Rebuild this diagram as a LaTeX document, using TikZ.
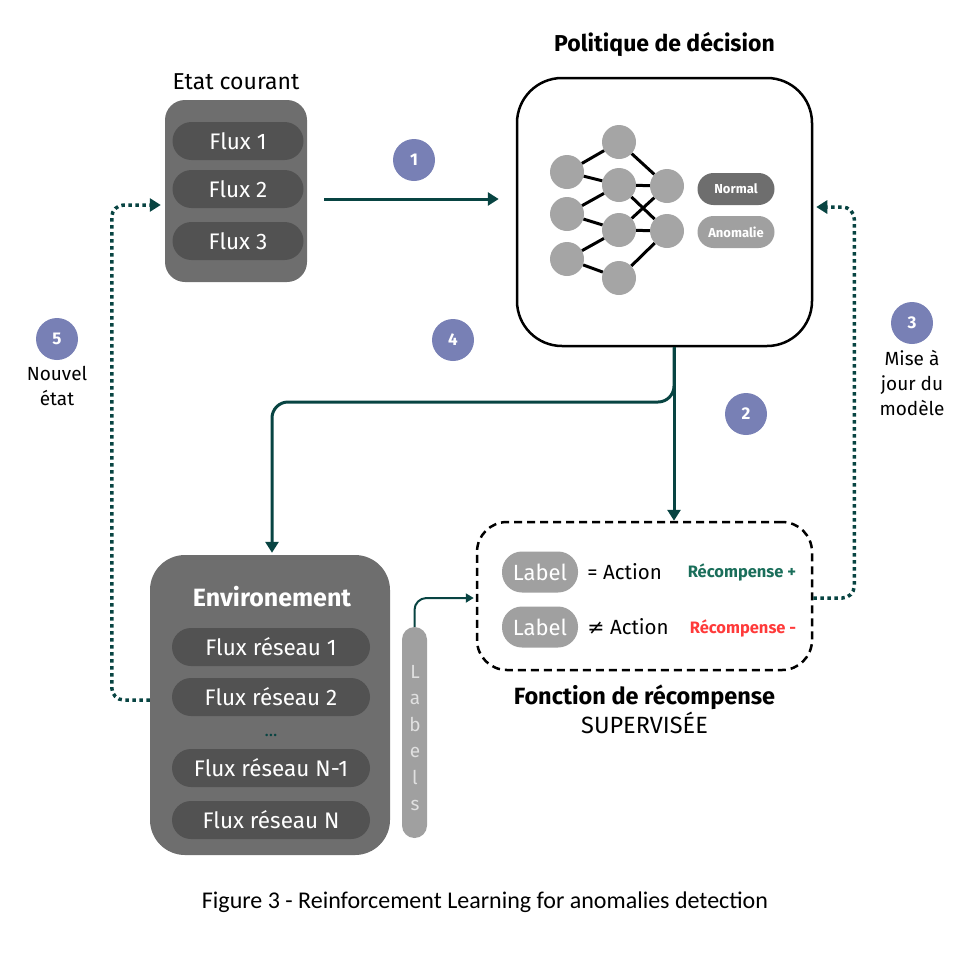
\documentclass[tikz,border=0pt]{standalone}
\usepackage{fontspec}
\setmainfont{Fira Sans}
\newfontfamily\capfont{Carlito}
\newfontfamily\symfont{DejaVu Sans}
\usepackage{tikz}
\usetikzlibrary{positioning,arrows.meta,calc}

\definecolor{boxgray}{RGB}{110,110,110}
\definecolor{pillgray}{RGB}{82,82,82}
\definecolor{softgray}{RGB}{160,160,160}
\definecolor{neurongray}{RGB}{165,165,165}
\definecolor{stepblue}{RGB}{120,128,181}
\definecolor{darkteal}{RGB}{8,68,66}
\definecolor{rewardgreen}{RGB}{26,110,90}
\definecolor{rewardred}{RGB}{255,58,58}

\begin{document}
\begin{tikzpicture}[
    x=1pt, y=-1pt,
    panel/.style={rectangle, fill=boxgray, inner sep=0pt},
    flux/.style={rectangle, rounded corners=19pt, fill=pillgray, text=white, minimum height=38pt, inner sep=0pt, font=\fontsize{22.5}{24}\selectfont},
    neuron/.style={circle, fill=neurongray, minimum size=34pt, inner sep=0pt},
    synapse/.style={line width=3pt, black},
    outlabel/.style={rectangle, rounded corners=16pt, minimum width=77pt, minimum height=32pt, inner sep=0pt, text=white, font=\bfseries\fontsize{13}{14}\selectfont},
    labelpill/.style={rectangle, rounded corners=20pt, fill=softgray, text=white, minimum width=76pt, minimum height=41pt, inner sep=0pt, font=\fontsize{22}{24}\selectfont},
    numbered/.style={circle, fill=stepblue, text=white, minimum size=42pt, inner sep=0pt, font=\bfseries\fontsize{17}{17}\selectfont},
    flow/.style={-{Triangle[length=11pt,width=13pt]}, line width=3pt, draw=darkteal},
    feedback/.style={flow, dash pattern=on 3.5pt off 3.5pt, line width=3.5pt, rounded corners=12pt},
    caption/.style={font=\fontsize{23}{28}\selectfont, align=center}
]
\useasboundingbox (0,0) rectangle (971,954);

\node[panel, rounded corners=20pt, minimum width=142pt, minimum height=182pt] (etat) at (236,191) {};
\node[above=6pt of etat, caption] (etattitle) {Etat courant};
\foreach \i/\y in {1/141,2/189,3/241}
    \node[flux, minimum width=131pt] (flux\i) at (238,\y) {Flux \i};

\node[rectangle, draw, line width=2.5pt, rounded corners=45pt, minimum width=295pt, minimum height=268pt] (policy) at (664.5,212) {};
\node[above=17pt of policy, font=\bfseries\fontsize{23}{26}\selectfont] (policytitle) {Politique de décision};

\node[neuron] (in1) at (567,172) {};
\node[neuron] (in2) at (567,214) {};
\node[neuron] (in3) at (567,259) {};
\node[neuron] (h1) at (619,142) {};
\node[neuron] (h2) at (619,185) {};
\node[neuron] (h3) at (619,230) {};
\node[neuron] (h4) at (619,278) {};
\node[neuron] (o1) at (667,186) {};
\node[neuron] (o2) at (667,231) {};
\draw[synapse] (in1) -- (h1) (in1) -- (h2) (in2) -- (h2) (in2) -- (h3) (in3) -- (h3) (in3) -- (h4);
\draw[synapse] (h1) -- (o1) (h2) -- (o1) (h2) -- (o2) (h3) -- (o1) (h3) -- (o2) (h4) -- (o2);

\node[outlabel, fill=boxgray] (normal) at (736,189) {Normal};
\node[outlabel, fill=softgray] (anomalie) at (736,232) {Anomalie};

\node[rectangle, draw, dash pattern=on 8pt off 5pt, line width=2.5pt, rounded corners=30pt, minimum width=335pt, minimum height=148pt] (reward) at (644.5,596) {};
\node[labelpill] (label1) at (540,572) {Label};
\node[labelpill] (label2) at (540,627) {Label};
\node[right=9pt of label1, inner sep=0pt, font=\fontsize{20.5}{22}\selectfont] (eq) {= Action};
\node[right=9pt of label2, inner sep=0pt, font=\fontsize{20.5}{22}\selectfont] (neq) {{\symfont ≠} Action};
\node[text=rewardgreen, font=\bfseries\fontsize{16.5}{18}\selectfont] (plus) at (742,572) {Récompense +};
\node[text=rewardred, font=\bfseries\fontsize{16.5}{18}\selectfont] (minus) at (743,628) {Récompense -};
\node[below=10pt of reward, caption, font=\fontsize{23.5}{29}\selectfont] (rewardtitle) {\textbf{Fonction de récompense}\\SUPERVISÉE};

\node[panel, rounded corners=35pt, minimum width=240pt, minimum height=300pt] (env) at (270,705) {};
\node[text=white, font=\bfseries\fontsize{25}{28}\selectfont] (envtitle) at (272,597) {Environement};
\foreach \name/\txt/\y in {r1/Flux réseau 1/647, r2/Flux réseau 2/697, rn1/Flux réseau N-1/768, rn/Flux réseau N/820}
    \node[flux, minimum width=198pt] (\name) at (271,\y) {\txt};
\node[text=darkteal, font=\fontsize{18}{18}\selectfont] (dots) at (271,735) {...};

\node[rectangle, fill=softgray, rounded corners=12.5pt, minimum width=25pt, minimum height=211pt, inner sep=0pt] (labels) at (414.5,732.5) {};
\node[text=black!12, align=center, font=\fontsize{19}{26.5}\selectfont] (labelstext) at (415,738) {L\\a\\b\\e\\l\\s};

\draw[flow] ($(etat.east)+(17,8)$) -- ($(etat.east -| policy.west)+(-17,8)$);
\coordinate (split) at (674,402);
\draw[flow] (policy.south -| split) -- (reward.north -| split);
\draw[flow, rounded corners=16pt] (policy.south -| split) |- ($(split -| env.north)+(2,0)$) -- ($(env.north)+(2,-2)$);
\draw[flow, line width=2pt, -{Triangle[length=8pt,width=9pt]}, rounded corners=12pt] (labels.north) |- ($(reward.west)+(-2,2)$);
\draw[feedback] ($(reward.east)+(0,2)$) -- ++(41,0) |- ($(policy.east)+(3,-5)$);
\draw[feedback] ($(env.west)+(0,-5)$) -- ++(-38,0) |- ($(etat.west)+(-4,14)$);

\node[numbered] (n1) at (414,160) {1};
\node[numbered] (n2) at (746,414) {2};
\node[numbered] (n3) at (912,323) {3};
\node[numbered] (n4) at (453,340) {4};
\node[numbered] (n5) at (57,339) {5};
\node[below=3pt of n3, caption, font=\fontsize{19}{25}\selectfont] (n3text) {Mise à\\jour du\\modèle};
\node[below=3pt of n5, caption, font=\fontsize{19}{25}\selectfont] (n5text) {Nouvel\\état};

\node[font=\capfont\fontsize{24}{26}\selectfont] (figcaption) at (485,902) {Figure 3 - Reinforcement Learning for anomalies detection};
\end{tikzpicture}
\end{document}
